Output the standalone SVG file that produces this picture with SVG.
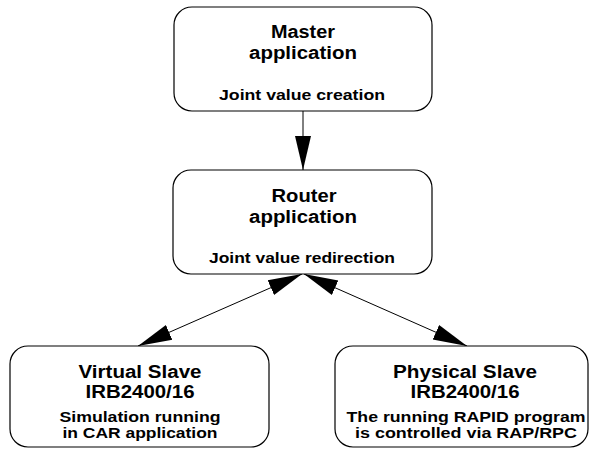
<svg xmlns="http://www.w3.org/2000/svg" width="590" height="449" viewBox="0 0 590 449">
<style>
.box{fill:#fff;stroke:#000;stroke-width:1.2}
text{font-family:"Liberation Sans",Arial,sans-serif;font-weight:bold;fill:#000;text-anchor:middle}
.t{font-size:18px}
.s{font-size:15px}
.u{font-size:14px}
.c{stroke:#000;stroke-width:1;fill:none}
</style>
<defs>
<marker id="ah" markerUnits="userSpaceOnUse" markerWidth="36" markerHeight="18" refX="34" refY="8" orient="auto-start-reverse" viewBox="0 0 36 16">
<path d="M0,0 L34,8 L0,16 Z" fill="#000"/>
</marker>
</defs>
<g id="connectors">
<line class="c" x1="303" y1="111" x2="303" y2="170" marker-end="url(#ah)"/>
<line class="c" x1="302" y1="274" x2="138" y2="346" marker-start="url(#ah)" marker-end="url(#ah)"/>
<line class="c" x1="304" y1="274" x2="467" y2="346" marker-start="url(#ah)" marker-end="url(#ah)"/>
</g>
<g id="master">
<rect class="box" x="174" y="7" width="258" height="104" rx="18"/>
<text class="t" x="303" y="38" textLength="64" lengthAdjust="spacingAndGlyphs">Master</text>
<text class="t" x="303" y="59" textLength="108" lengthAdjust="spacingAndGlyphs">application</text>
<text class="s" x="302" y="100" textLength="166" lengthAdjust="spacingAndGlyphs">Joint value creation</text>
</g>
<g id="router">
<rect class="box" x="173" y="170" width="259" height="104" rx="18"/>
<text class="t" x="304" y="202" textLength="65" lengthAdjust="spacingAndGlyphs">Router</text>
<text class="t" x="303" y="223" textLength="108" lengthAdjust="spacingAndGlyphs">application</text>
<text class="s" x="302" y="263" textLength="186" lengthAdjust="spacingAndGlyphs">Joint value redirection</text>
</g>
<g id="virtual">
<rect class="box" x="10" y="346" width="259" height="101" rx="18"/>
<text class="t" x="140" y="378" textLength="123" lengthAdjust="spacingAndGlyphs">Virtual Slave</text>
<text class="t" x="140" y="398" textLength="109" lengthAdjust="spacingAndGlyphs">IRB2400/16</text>
<text class="u" x="140" y="422" textLength="161" lengthAdjust="spacingAndGlyphs">Simulation running</text>
<text class="u" x="140" y="438" textLength="155" lengthAdjust="spacingAndGlyphs">in CAR application</text>
</g>
<g id="physical">
<rect class="box" x="335" y="346" width="253" height="101" rx="18"/>
<text class="t" x="465" y="378" textLength="144" lengthAdjust="spacingAndGlyphs">Physical Slave</text>
<text class="t" x="465" y="398" textLength="109" lengthAdjust="spacingAndGlyphs">IRB2400/16</text>
<text class="u" x="466" y="422" textLength="239" lengthAdjust="spacingAndGlyphs">The running RAPID program</text>
<text class="u" x="466" y="438" textLength="222" lengthAdjust="spacingAndGlyphs">is controlled via RAP/RPC</text>
</g>
</svg>
